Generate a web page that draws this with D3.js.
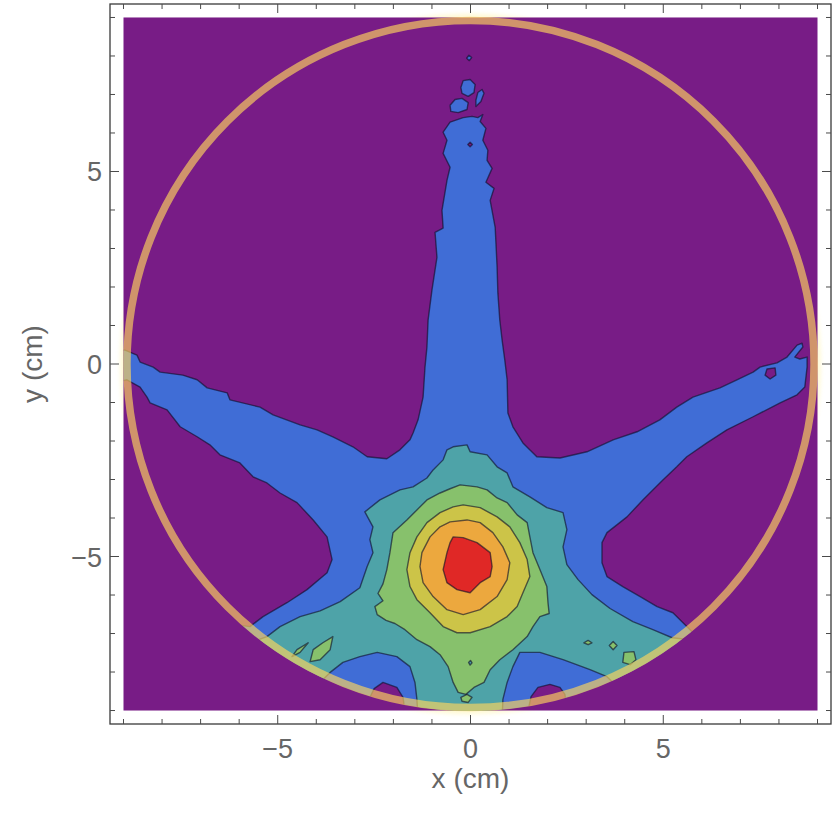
<!DOCTYPE html>
<html><head><meta charset="utf-8">
<script src="https://cdn.jsdelivr.net/npm/d3@7"></script>
<style>html,body{margin:0;padding:0;background:#fff}</style>
</head><body>
<svg id="chart" width="837" height="825"></svg>
<script>
// ---- data (cm) ----
const tickValues = [-9,-8,-7,-6,-5,-4,-3,-2,-1,0,1,2,3,4,5,6,7,8,9];
const majorTicks = [-5,0,5];
const tickLabels = {"-5":"\u22125","0":"0","5":"5"};
const xTitle = "x (cm)";
const yTitle = "y (cm)";
const detectorRadius = 8.91;
const dataRadius = 9;
const levelColors = ["#781c86","#406dd6","#4ea3a8","#87c16c","#ccc448","#eca83e","#e02826"];

const blueStar = [[-0.19,6.40],[0.04,6.43],[0.19,6.40],[0.32,6.48],[0.25,6.30],[0.40,6.12],[0.32,5.81],[0.45,5.55],[0.43,5.29],[0.56,5.08],[0.40,4.72],[0.61,4.56],[0.51,4.25],[0.64,3.55],[0.69,2.52],[0.71,1.84],[0.76,1.14],[0.82,0.62],[0.89,0.10],[0.95,-0.41],[0.97,-1.27],[1.10,-1.63],[1.36,-2.05],[1.72,-2.41],[2.32,-2.44],[3.02,-2.28],[3.70,-1.97],[4.32,-1.76],[4.91,-1.45],[5.35,-1.12],[5.77,-0.86],[6.47,-0.62],[6.91,-0.41],[7.33,-0.21],[7.51,-0.08],[7.95,0.03],[8.21,0.18],[8.47,0.49],[8.60,0.54],[8.62,0.44],[8.41,0.18],[8.54,0.13],[8.73,0.18],[8.73,-0.08],[8.67,-0.60],[8.47,-0.80],[8.03,-1.01],[7.33,-1.37],[6.65,-1.71],[6.13,-2.05],[5.61,-2.41],[5.35,-2.67],[4.99,-3.01],[4.47,-3.53],[4.06,-3.97],[3.54,-4.38],[3.41,-4.64],[3.41,-5.16],[3.54,-5.52],[3.95,-5.78],[4.40,-6.04],[4.84,-6.30],[5.25,-6.46],[5.61,-6.82],[6.08,-7.29],[4.40,-9.75],[2.58,-9.75],[2.50,-9.02],[2.45,-8.58],[2.32,-8.40],[2.06,-8.32],[1.75,-8.40],[1.57,-8.64],[1.49,-9.02],[0.76,-9.75],[-1.05,-9.75],[-1.70,-9.02],[-1.75,-8.66],[-1.91,-8.40],[-2.27,-8.27],[-2.50,-8.43],[-2.61,-8.66],[-2.66,-9.02],[-4.42,-9.75],[-7.01,-8.19],[-6.11,-6.77],[-5.72,-6.82],[-5.38,-6.56],[-4.76,-6.20],[-4.24,-5.86],[-3.72,-5.42],[-3.59,-5.08],[-3.72,-4.49],[-4.08,-4.05],[-4.50,-3.60],[-4.94,-3.35],[-5.28,-3.09],[-5.64,-2.93],[-5.98,-2.57],[-6.50,-2.36],[-6.76,-2.10],[-7.09,-1.89],[-7.53,-1.63],[-7.87,-1.19],[-8.31,-1.01],[-8.39,-0.86],[-8.57,-0.60],[-8.91,-0.41],[-9.48,-0.54],[-9.48,0.41],[-8.96,0.36],[-8.65,0.23],[-8.57,0.05],[-8.23,-0.08],[-8.05,-0.21],[-7.46,-0.29],[-7.09,-0.41],[-6.83,-0.62],[-6.31,-0.75],[-6.24,-0.93],[-5.46,-1.12],[-5.12,-1.32],[-4.42,-1.58],[-3.98,-1.71],[-3.57,-1.89],[-3.05,-2.15],[-2.68,-2.41],[-2.17,-2.46],[-1.83,-2.23],[-1.57,-1.97],[-1.49,-1.79],[-1.36,-1.45],[-1.23,-0.86],[-1.18,-0.08],[-1.13,0.44],[-1.10,1.14],[-1.00,1.92],[-0.87,2.77],[-0.92,3.42],[-0.71,3.53],[-0.74,3.99],[-0.61,4.77],[-0.53,5.11],[-0.71,5.47],[-0.61,5.81],[-0.71,6.02],[-0.53,6.28]];
const blueIslands = [
  [[-0.25,7.18],[-0.19,7.36],[-0.01,7.39],[0.12,7.26],[0.09,7.05],[-0.06,6.95],[-0.22,7.03]],
  [[0.14,6.85],[0.19,7.05],[0.30,7.13],[0.35,7.03],[0.27,6.82],[0.14,6.69]],
  [[-0.53,6.72],[-0.40,6.87],[-0.22,6.90],[-0.06,6.79],[-0.09,6.61],[-0.32,6.53],[-0.51,6.56]],
  [[-0.10,7.94],[-0.04,8.02],[0.03,7.96],[-0.03,7.88]]
];
const purpleHoles = [
  [[7.69,-0.13],[7.90,-0.10],[7.92,-0.29],[7.77,-0.39],[7.64,-0.29]],
  [[-0.07,5.70],[-0.01,5.76],[0.05,5.70],[-0.01,5.64]]
];
const tealRegion = [[-0.45,-2.15],[-0.09,-2.10],[-0.01,-2.28],[0.43,-2.36],[0.69,-2.67],[0.95,-2.83],[1.10,-3.19],[1.54,-3.45],[1.98,-3.73],[2.40,-3.86],[2.50,-4.30],[2.40,-4.75],[2.50,-5.21],[2.79,-5.60],[3.15,-5.99],[3.62,-6.35],[4.21,-6.69],[4.73,-6.90],[5.23,-7.11],[5.69,-7.16],[4.91,-8.45],[3.88,-8.45],[3.54,-8.12],[3.10,-7.94],[2.40,-7.68],[1.80,-7.49],[1.28,-7.49],[1.10,-7.86],[0.95,-8.27],[0.84,-8.71],[0.82,-9.23],[-1.36,-9.23],[-1.39,-8.71],[-1.44,-8.27],[-1.57,-7.86],[-1.91,-7.60],[-2.42,-7.49],[-2.87,-7.60],[-3.31,-7.75],[-3.64,-8.01],[-3.95,-8.32],[-5.98,-8.19],[-5.85,-7.29],[-5.28,-7.08],[-4.94,-6.82],[-4.42,-6.56],[-3.90,-6.41],[-3.38,-6.17],[-2.87,-5.81],[-2.68,-5.26],[-2.53,-4.90],[-2.61,-4.56],[-2.53,-4.23],[-2.74,-3.84],[-2.35,-3.53],[-1.83,-3.27],[-1.49,-3.19],[-1.13,-2.96],[-0.97,-2.75],[-0.71,-2.49],[-0.61,-2.23]];
const greenIslands = [
  [[-3.57,-7.08],[-3.64,-7.42],[-3.90,-7.68],[-4.16,-7.73],[-4.08,-7.42],[-3.83,-7.24]],
  [[-4.21,-7.24],[-4.42,-7.49],[-4.63,-7.60],[-4.50,-7.42]],
  [[2.94,-7.24],[3.05,-7.18],[3.15,-7.24],[3.05,-7.29]],
  [[3.60,-7.31],[3.70,-7.21],[3.80,-7.31],[3.70,-7.42]],
  [[3.98,-7.49],[4.24,-7.47],[4.29,-7.68],[4.14,-7.81],[3.95,-7.75]],
  [[-0.25,-8.66],[-0.09,-8.58],[0.04,-8.66],[-0.06,-8.79],[-0.22,-8.76]]
];
const greenRegion = [[-0.27,-3.14],[0.17,-3.19],[0.43,-3.27],[0.69,-3.48],[0.95,-3.60],[1.21,-3.92],[1.47,-4.12],[1.54,-4.49],[1.62,-4.90],[1.80,-5.34],[1.98,-5.78],[2.01,-6.20],[2.04,-6.48],[1.80,-6.56],[1.62,-6.82],[1.47,-7.08],[1.10,-7.42],[0.76,-7.68],[0.51,-7.94],[0.35,-8.27],[0.09,-8.40],[-0.12,-8.58],[-0.32,-8.53],[-0.45,-8.27],[-0.58,-7.86],[-0.79,-7.55],[-1.05,-7.34],[-1.39,-7.16],[-1.70,-6.90],[-1.96,-6.74],[-2.19,-6.66],[-2.42,-6.51],[-2.48,-6.30],[-2.27,-6.15],[-2.40,-5.96],[-2.27,-5.71],[-2.17,-5.34],[-2.09,-4.90],[-2.01,-4.38],[-1.65,-4.05],[-1.39,-3.79],[-1.13,-3.53],[-0.79,-3.35],[-0.53,-3.24]];
const tealHoles = [
  [[-0.05,-7.75],[0.00,-7.70],[0.04,-7.76],[-0.01,-7.82]]
];
const yellowRegion = [[-0.19,-3.66],[0.25,-3.73],[0.69,-3.97],[1.02,-4.23],[1.28,-4.64],[1.47,-5.08],[1.54,-5.52],[1.36,-5.94],[1.21,-6.30],[0.95,-6.56],[0.51,-6.82],[-0.01,-6.98],[-0.35,-6.98],[-0.71,-6.82],[-1.05,-6.46],[-1.39,-6.12],[-1.57,-5.78],[-1.65,-5.34],[-1.57,-4.90],[-1.39,-4.49],[-1.13,-4.12],[-0.79,-3.86],[-0.45,-3.71]];
const orangeRegion = [[-0.53,-4.10],[-0.09,-4.05],[0.25,-4.12],[0.58,-4.38],[0.84,-4.75],[1.02,-5.16],[0.95,-5.60],[0.69,-6.04],[0.25,-6.38],[-0.19,-6.51],[-0.61,-6.38],[-0.97,-6.04],[-1.23,-5.68],[-1.31,-5.26],[-1.26,-4.90],[-1.05,-4.49],[-0.79,-4.23]];
const redRegion = [[-0.45,-4.49],[-0.19,-4.51],[0.17,-4.64],[0.51,-4.90],[0.56,-5.26],[0.51,-5.52],[0.25,-5.68],[-0.01,-5.94],[-0.35,-5.86],[-0.61,-5.68],[-0.71,-5.34],[-0.61,-4.90],[-0.53,-4.64]];

// ---- drawing ----
const svg = d3.select("#chart");
const x = d3.scaleLinear().domain([-9.35, 9.35]).range([110, 831]);
const y = d3.scaleLinear().domain([-9.35, 9.35]).range([724, 4]);
const r = v => x(v) - x(0);

const defs = svg.append("defs");
defs.append("clipPath").attr("id","disk").append("circle")
  .attr("cx", x(0)).attr("cy", y(0)).attr("r", r(dataRadius));
defs.append("filter").attr("id","blur").attr("x","-10%").attr("y","-10%").attr("width","120%").attr("height","120%")
  .append("feGaussianBlur").attr("stdDeviation", 2);

// faint glow (only visible outside the plot rectangle)
svg.append("circle").attr("cx", x(0)).attr("cy", y(0)).attr("r", r(8.98))
  .attr("fill","none").attr("stroke","#fff4b0").attr("stroke-width",8)
  .attr("opacity",0.55).attr("filter","url(#blur)");

svg.append("rect").attr("x", x(-9)).attr("y", y(9))
  .attr("width", x(9)-x(-9)).attr("height", y(-9)-y(9)).attr("fill", levelColors[0]);

const line = d3.line().x(d => x(d[0])).y(d => y(d[1])).curve(d3.curveLinearClosed);
const g = svg.append("g").attr("clip-path","url(#disk)");
function draw(polys, level){
  g.selectAll(null).data(polys).enter().append("path")
    .attr("d", line).attr("fill", levelColors[level])
    .attr("stroke","rgba(15,15,40,0.62)").attr("stroke-width",1.4).attr("stroke-linejoin","round");
}
draw([blueStar], 1);
draw(blueIslands, 1);
draw(purpleHoles, 0);
draw([tealRegion], 2);
draw(greenIslands, 3);
draw([greenRegion], 3);
draw(tealHoles, 2);
draw([yellowRegion], 4);
draw([orangeRegion], 5);
draw([redRegion], 6);

// detector ring
svg.append("circle").attr("cx", x(0)).attr("cy", y(0)).attr("r", r(detectorRadius))
  .attr("fill","none").attr("stroke","rgb(255,214,92)").attr("stroke-width",7.5).attr("opacity",0.65);

// frame
const fr = {l:x(-9.35), r:x(9.35), t:y(9.35), b:y(-9.35)};
svg.append("rect").attr("x",fr.l).attr("y",fr.t).attr("width",fr.r-fr.l).attr("height",fr.b-fr.t)
  .attr("fill","none").attr("stroke","#3a3a3a").attr("stroke-width",1.3);
const tk = svg.append("g").attr("stroke","#4a4a4a").attr("stroke-width",1);
tickValues.forEach(v => {
  const len = majorTicks.includes(v) ? 9 : 5;
  const px = x(v), py = y(v);
  tk.append("line").attr("x1",px).attr("x2",px).attr("y1",fr.b).attr("y2",fr.b-len);
  tk.append("line").attr("x1",px).attr("x2",px).attr("y1",fr.t).attr("y2",fr.t+len);
  tk.append("line").attr("y1",py).attr("y2",py).attr("x1",fr.l).attr("x2",fr.l+len);
  tk.append("line").attr("y1",py).attr("y2",py).attr("x1",fr.r).attr("x2",fr.r-len);
});
const font = "'Liberation Sans', Arial, sans-serif";
majorTicks.forEach(v => {
  svg.append("text").attr("x", x(v)).attr("y", 758).attr("text-anchor","middle")
    .attr("font-family",font).attr("font-size",27).attr("fill","#666").text(tickLabels[String(v)]);
  svg.append("text").attr("x", 102).attr("y", y(v)+10).attr("text-anchor","end")
    .attr("font-family",font).attr("font-size",27).attr("fill","#666").text(tickLabels[String(v)]);
});
svg.append("text").attr("x", x(0)).attr("y", 788).attr("text-anchor","middle")
  .attr("font-family",font).attr("font-size",28).attr("fill","#666").text(xTitle);
svg.append("text").attr("transform",`translate(42,${y(0)}) rotate(-90)`).attr("text-anchor","middle")
  .attr("font-family",font).attr("font-size",28).attr("fill","#666").text(yTitle);
</script>
</body></html>
